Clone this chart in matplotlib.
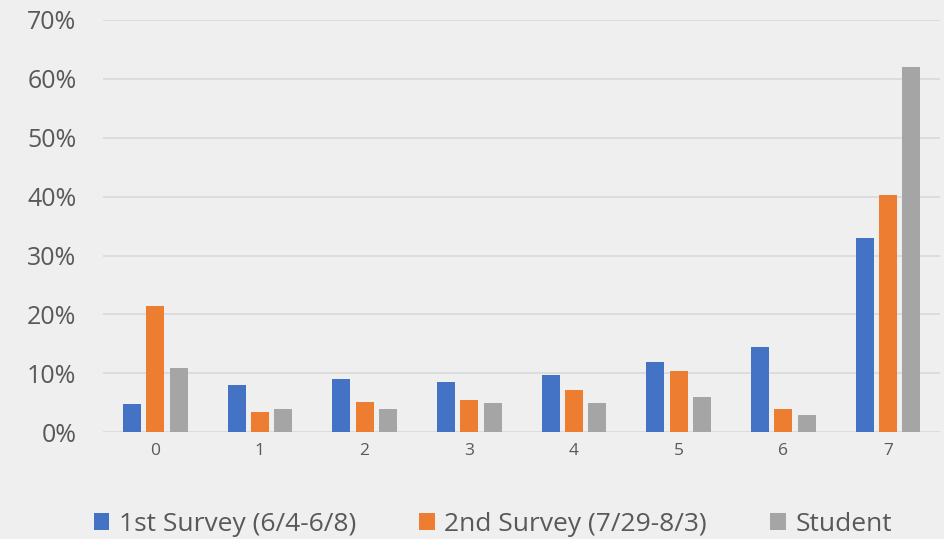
import numpy as np
import matplotlib.pyplot as plt
from matplotlib.ticker import PercentFormatter

categories = ["0", "1", "2", "3", "4", "5", "6", "7"]
series_names = ["1st Survey (6/4-6/8)", "2nd Survey (7/29-8/3)", "Student"]
first_survey = [0.048, 0.081, 0.091, 0.085, 0.097, 0.120, 0.145, 0.330]
second_survey = [0.215, 0.034, 0.052, 0.055, 0.071, 0.104, 0.040, 0.402]
student = [0.109, 0.040, 0.040, 0.050, 0.049, 0.060, 0.029, 0.620]

colors = ["#4472C4", "#ED7D31", "#A5A5A5"]
bg = "#efefef"
text_col = "#595959"

plt.rcParams['font.family'] = ['Open Sans', 'DejaVu Sans']

fig = plt.figure(figsize=(9.44, 5.39), dpi=100, facecolor=bg)
ax = fig.add_axes([0.109, 0.198, 0.887, 0.765])
ax.set_facecolor(bg)

x = np.arange(len(categories))
w = 0.172
step = 0.223
for i, (vals, name) in enumerate(zip([first_survey, second_survey, student], series_names)):
    ax.bar(x + (i - 1) * step, vals, width=w, color=colors[i], label=name, zorder=3)

ax.set_xlim(-0.5, len(categories) - 0.5)
ax.set_ylim(0, 0.7)
ax.set_yticks(np.arange(0, 0.71, 0.1))
ax.yaxis.set_major_formatter(PercentFormatter(1.0, decimals=0))
ax.set_xticks(x)
ax.set_xticklabels(categories)
ax.grid(axis='y', color="#d9d9d9", linewidth=1.2, zorder=0)
for s in ax.spines.values():
    s.set_visible(False)
ax.tick_params(axis='y', length=0, labelsize=18, labelcolor=text_col, pad=19)
ax.tick_params(axis='x', length=0, labelsize=12.5, labelcolor=text_col, pad=8)

fig.legend(loc='lower center', bbox_to_anchor=(0.522, -0.04), ncol=3, frameon=False,
           fontsize=19, labelcolor=text_col, handlelength=0.6, handleheight=0.6,
           handletextpad=0.35, columnspacing=2.4)

fig.savefig("out.png", dpi=100, facecolor=bg)
